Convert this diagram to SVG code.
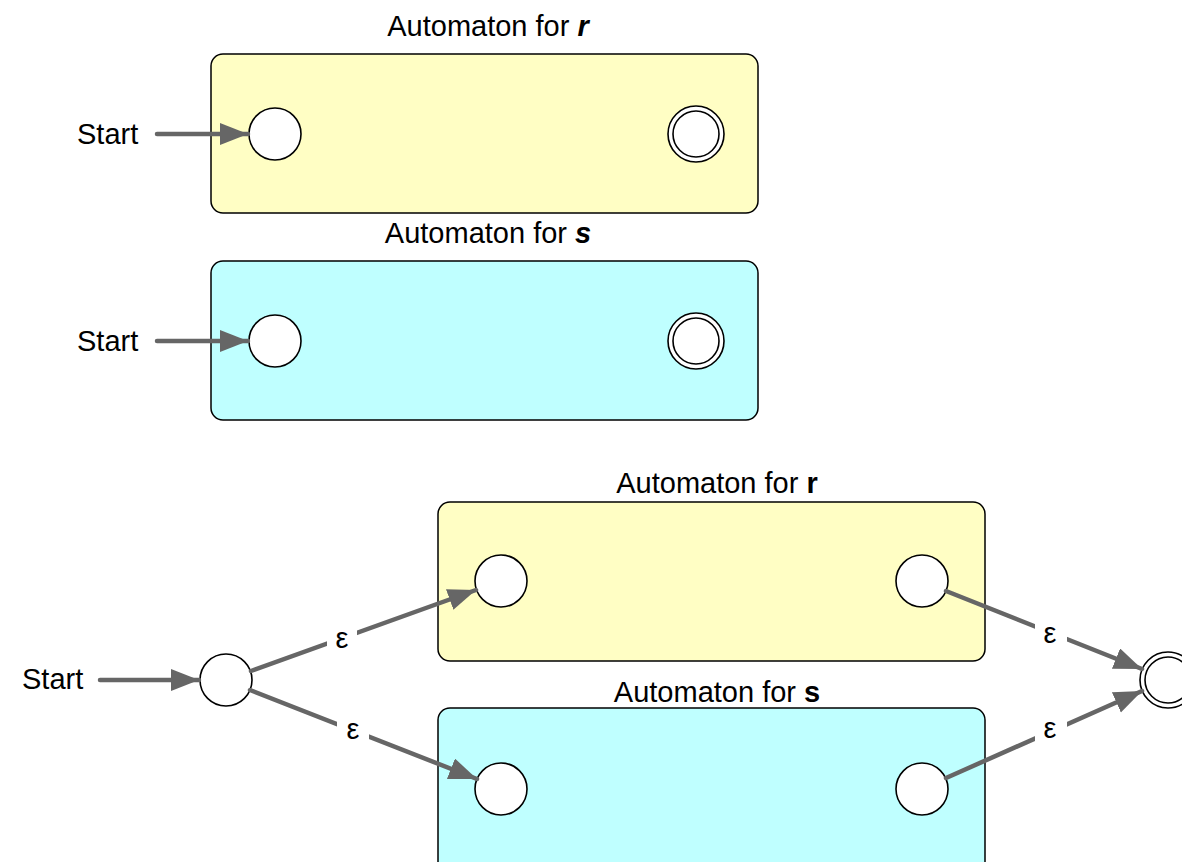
<svg xmlns="http://www.w3.org/2000/svg" width="1182" height="862" viewBox="0 0 1182 862">
  <style>
    text { font-family: "Liberation Sans", Arial, sans-serif; font-size: 29px; fill: #000; }
    .title { text-anchor: middle; }
    .eps { text-anchor: middle; }
    .box { stroke: #000; stroke-width: 1.5; }
    .yellow { fill: #FFFEC4; }
    .cyan { fill: #BFFFFF; }
    .state { fill: #fff; stroke: #000; stroke-width: 1.6; }
    .edge { stroke: #666; stroke-width: 4.5; stroke-linecap: round; fill: none; }
    .gap { fill: #fff; }
  </style>
  <defs>
    <marker id="arrow" markerUnits="userSpaceOnUse" markerWidth="30" markerHeight="24" refX="28" refY="11" orient="auto">
      <path d="M0,0 L28,11 L0,22 Z" fill="#666"/>
    </marker>
  </defs>

  <!-- automaton for r (standalone) -->
  <g id="top-r">
    <text class="title" x="488" y="36">Automaton for <tspan font-weight="bold" font-style="italic">r</tspan></text>
    <rect class="box yellow" x="211" y="54" width="547" height="159" rx="12"/>
    <circle class="state" cx="275" cy="134" r="26"/>
    <circle class="state" cx="696" cy="134" r="28"/>
    <circle class="state" cx="696" cy="134" r="23"/>
    <text x="77" y="144">Start</text>
  </g>

  <!-- automaton for s (standalone) -->
  <g id="top-s">
    <text class="title" x="488" y="243">Automaton for <tspan font-weight="bold" font-style="italic">s</tspan></text>
    <rect class="box cyan" x="211" y="261" width="547" height="159" rx="12"/>
    <circle class="state" cx="275" cy="341" r="26"/>
    <circle class="state" cx="696" cy="341" r="28"/>
    <circle class="state" cx="696" cy="341" r="23"/>
    <text x="77" y="351">Start</text>
  </g>

  <!-- union construction -->
  <g id="union-r">
    <text class="title" x="717" y="493">Automaton for <tspan font-weight="bold">r</tspan></text>
    <rect class="box yellow" x="438" y="502" width="547" height="159" rx="12"/>
    <circle class="state" cx="501" cy="581" r="26"/>
    <circle class="state" cx="922" cy="581" r="26"/>
  </g>
  <g id="union-s">
    <text class="title" x="717" y="702">Automaton for <tspan font-weight="bold">s</tspan></text>
    <rect class="box cyan" x="438" y="708" width="547" height="170" rx="12"/>
    <circle class="state" cx="501" cy="789" r="26"/>
    <circle class="state" cx="922" cy="789" r="26"/>
  </g>
  <g id="union-start">
    <circle class="state" cx="226" cy="680" r="26"/>
    <text x="22" y="689">Start</text>
  </g>
  <g id="union-final">
    <circle class="state" cx="1168" cy="680" r="28"/>
    <circle class="state" cx="1168" cy="680" r="23"/>
  </g>

  <!-- transitions -->
  <g id="connectors">
    <line class="edge" x1="157" y1="134" x2="248" y2="134" marker-end="url(#arrow)"/>
    <line class="edge" x1="157" y1="341" x2="248" y2="341" marker-end="url(#arrow)"/>
    <line class="edge" x1="100" y1="680" x2="199" y2="680" marker-end="url(#arrow)"/>

    <line class="edge" x1="251" y1="671" x2="476" y2="590" marker-end="url(#arrow)"/>
    <line class="edge" x1="250" y1="690" x2="477" y2="779" marker-end="url(#arrow)"/>
    <line class="edge" x1="946" y1="591" x2="1142" y2="669" marker-end="url(#arrow)"/>
    <line class="edge" x1="946" y1="778" x2="1142" y2="691" marker-end="url(#arrow)"/>

    <rect class="gap" x="327" y="620" width="30" height="36"/>
    <rect class="gap" x="337" y="712" width="32" height="36"/>
    <rect class="gap" x="1035" y="616" width="32" height="36"/>
    <rect class="gap" x="1035" y="712" width="32" height="36"/>
    <text class="eps" x="342" y="648">ε</text>
    <text class="eps" x="353" y="739">ε</text>
    <text class="eps" x="1050" y="643">ε</text>
    <text class="eps" x="1050" y="738">ε</text>
  </g>
</svg>
